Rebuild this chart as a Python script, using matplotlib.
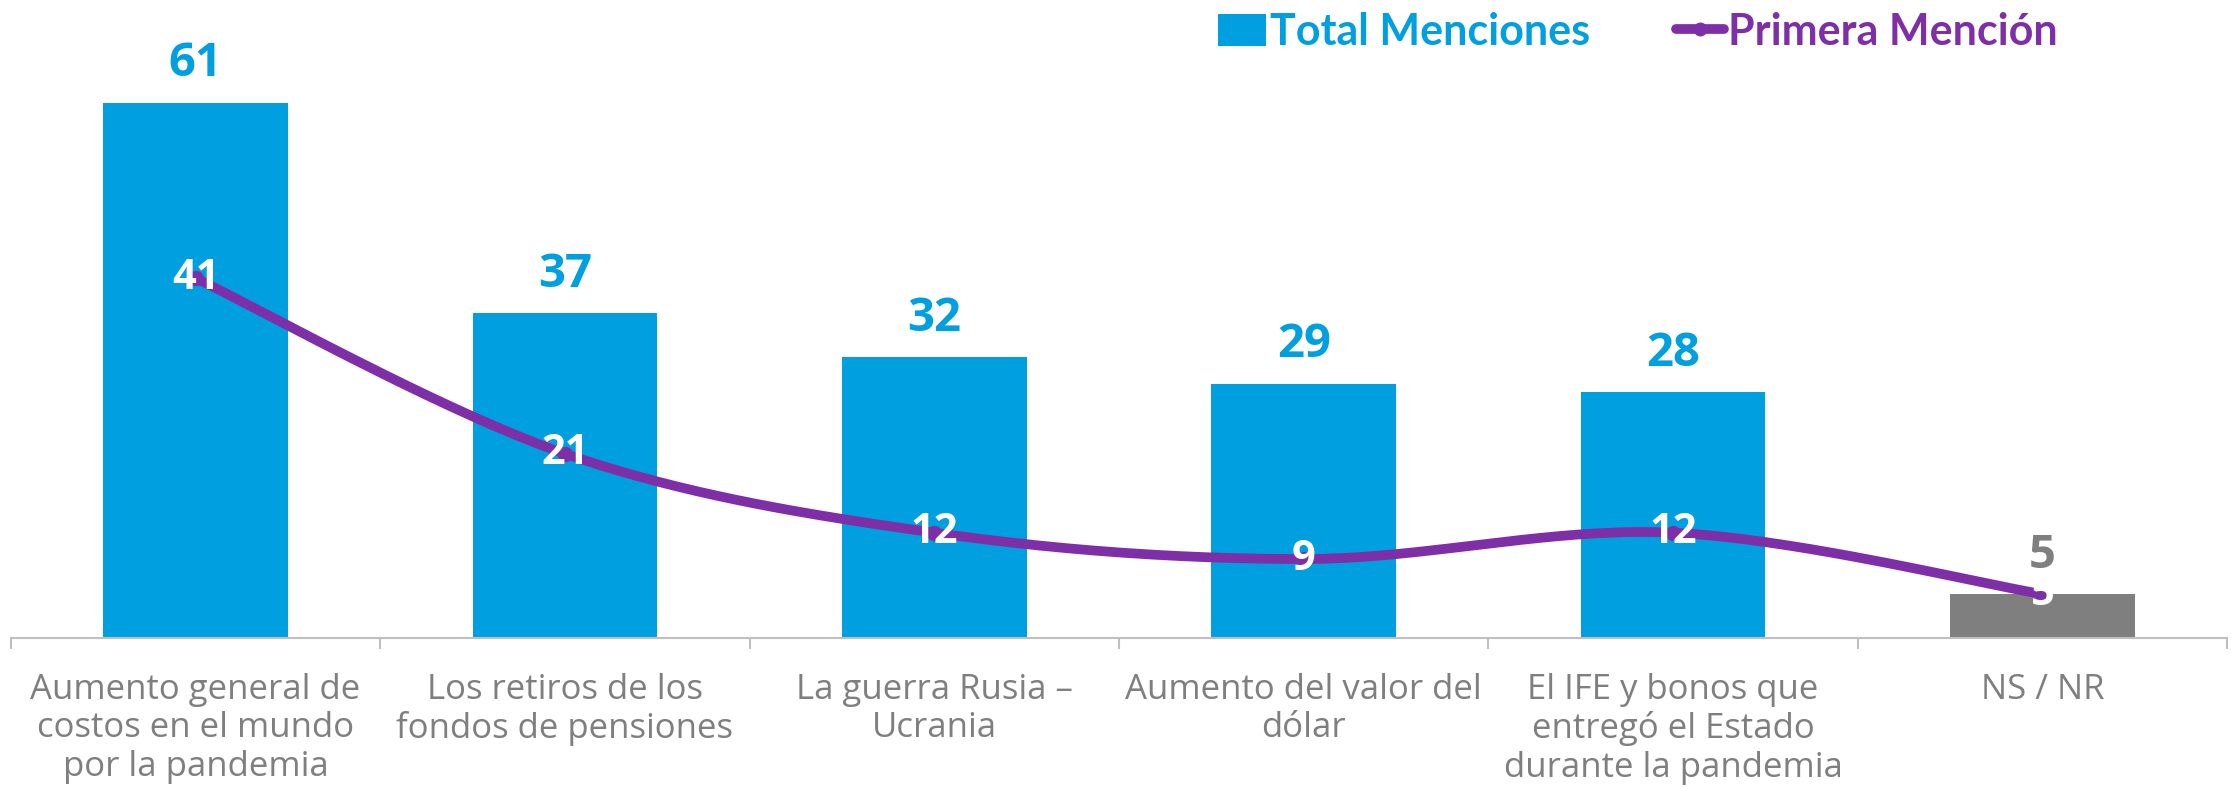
import numpy as np
import matplotlib
matplotlib.use("Agg")
from matplotlib import pyplot as plt
from matplotlib.lines import Line2D
from matplotlib.patches import Patch

categories = [
    "Aumento general de\ncostos en el mundo\npor la pandemia",
    "Los retiros de los\nfondos de pensiones",
    "La guerra Rusia –\nUcrania",
    "Aumento del valor del\ndólar",
    "El IFE y bonos que\nentregó el Estado\ndurante la pandemia",
    "NS / NR",
]
total_menciones = [61, 37, 32, 29, 28, 5]
primera_mencion = [41, 21, 12, 9, 12, 5]

BLUE = "#009FDF"
GRAY_BAR = "#7F7F7F"
PURPLE = "#7E2FA7"
TEXT_GRAY = "#7F7F7F"
AXIS_GRAY = "#BFBFBF"

plt.rcParams["font.family"] = ["Open Sans", "DejaVu Sans"]


def smooth_curve(x, y, steps=40):
    # bezier segments like the office "smoothed line"
    px = np.concatenate([[x[0]], x, [x[-1]]])
    py = np.concatenate([[y[0]], y, [y[-1]]])
    xs, ys = [], []
    t = np.linspace(0, 1, steps)
    for i in range(1, len(px) - 2):
        p0 = np.array([px[i], py[i]])
        p3 = np.array([px[i + 1], py[i + 1]])
        p1 = p0 + (np.array([px[i + 1], py[i + 1]]) - np.array([px[i - 1], py[i - 1]])) / 6
        p2 = p3 - (np.array([px[i + 2], py[i + 2]]) - np.array([px[i], py[i]])) / 6
        pts = ((1 - t) ** 3)[:, None] * p0 + (3 * (1 - t) ** 2 * t)[:, None] * p1 \
            + (3 * (1 - t) * t ** 2)[:, None] * p2 + (t ** 3)[:, None] * p3
        xs.extend(pts[:, 0])
        ys.extend(pts[:, 1])
    return np.array(xs), np.array(ys)


fig = plt.figure(figsize=(22.34, 7.87), dpi=100)
ax = fig.add_axes([0.0049, 0.1893, 0.992, 0.8107])

x = np.arange(len(categories))
colors = [BLUE] * (len(categories) - 1) + [GRAY_BAR]
ax.bar(x, total_menciones, width=0.5, color=colors, zorder=2)

for xi, v, c in zip(x, total_menciones, colors):
    ax.annotate(str(v), (xi, v), xytext=(0, 28), textcoords="offset points",
                ha="center", va="center", fontsize=34, fontweight="bold",
                color=BLUE if c == BLUE else TEXT_GRAY)

sx, sy = smooth_curve(x.astype(float), np.array(primera_mencion, dtype=float))
ax.plot(sx, sy, color=PURPLE, lw=7, solid_capstyle="round", zorder=3)
ax.plot(x, primera_mencion, "o", color=PURPLE, ms=10, zorder=3)

for xi, v in zip(x, primera_mencion):
    ax.text(xi, v, str(v), ha="center", va="center", fontsize=30,
            fontweight="bold", color="white", zorder=4)

ax.set_xlim(-0.5, 5.5)
ax.set_ylim(0, 72.7)
ax.set_yticks([])
for s in ["top", "right", "left"]:
    ax.spines[s].set_visible(False)
ax.spines["bottom"].set_color(AXIS_GRAY)
ax.spines["bottom"].set_linewidth(1.5)

ax.set_xticks(x)
ax.set_xticklabels(categories, fontsize=25, color=TEXT_GRAY, linespacing=1.17, va="top")
ax.tick_params(axis="x", which="major", length=0, pad=25)
ax.set_xticks(np.arange(-0.5, 6.0, 1.0), minor=True)
ax.tick_params(axis="x", which="minor", length=8, width=1.5, color=AXIS_GRAY, direction="out")

handles = [
    Patch(facecolor=BLUE, edgecolor="none"),
    Line2D([0], [0], color=PURPLE, lw=7, marker="o", ms=9, solid_capstyle="round"),
]
leg = fig.legend(handles, ["Total Menciones", "Primera Mención"], loc="upper left",
                 bbox_to_anchor=(0.528, 1.034), ncol=2, frameon=False,
                 prop={"family": ["Lato", "DejaVu Sans"], "weight": "bold", "size": 31},
                 labelcolor=[BLUE, PURPLE], handlelength=1.1, handletextpad=0.1,
                 columnspacing=2.0, handleheight=0.8)

fig.savefig("out.png", dpi=100)
